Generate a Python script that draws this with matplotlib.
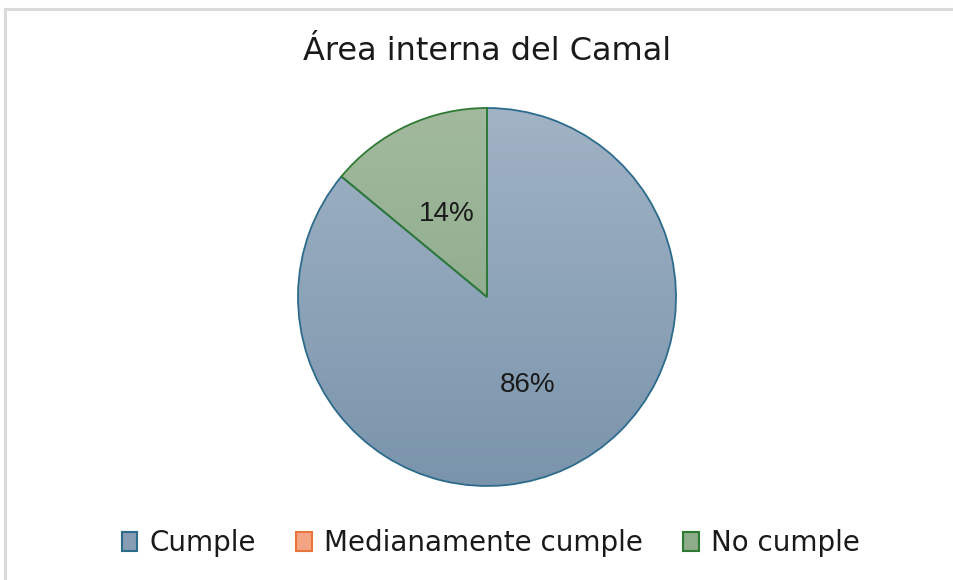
import numpy as np
import matplotlib
matplotlib.use("Agg")
import matplotlib.pyplot as plt
from matplotlib.patches import Patch
from matplotlib.lines import Line2D
from matplotlib.colors import LinearSegmentedColormap

title = "Área interna del Camal"
categories = ["Cumple", "Medianamente cumple", "No cumple"]
values = [86, 0, 14]

# fill gradients (top, bottom), edge colours
fill_top = ["#a1b3c5", "#f6b295", "#a2b99e"]
fill_bottom = ["#7a94ab", "#f09a74", "#83a380"]
legend_fill = ["#869db3", "#f4a482", "#8eab8a"]
edge_colors = ["#2c6b8c", "#e8743b", "#2f7a33"]

W, H = 954, 580
fig = plt.figure(figsize=(W / 100, H / 100), dpi=100)
fig.patch.set_facecolor("white")

# light grey chart frame along left and top
fig.add_artist(Line2D([5.5 / W, 5.5 / W], [0, 1 - 9 / H], color="#d9d9d9", lw=2.2,
                      transform=fig.transFigure))
fig.add_artist(Line2D([5.5 / W, 1], [1 - 9 / H, 1 - 9 / H], color="#d9d9d9", lw=2.2,
                      transform=fig.transFigure))

cx, cy, r = 487, 297, 189
ax = fig.add_axes([(cx - r) / W, (H - cy - r) / H, 2 * r / W, 2 * r / H])

def pct_label(p):
    return "%d%%" % round(p) if p > 0 else ""

wedges, texts, autotexts = ax.pie(
    values, startangle=90, counterclock=False, radius=1,
    colors=fill_bottom, autopct=pct_label, pctdistance=0.5,
    wedgeprops=dict(linewidth=1.3, clip_on=False),
    textprops=dict(fontsize=20, color="#1a1a1a", family="Liberation Sans"))
for t in autotexts:
    x, y = t.get_position()
    t.set_position((x, y - 0.015))

# vertical gradient inside each slice
grad = np.linspace(0, 1, 256).reshape(-1, 1)
for w, v, top, bot, ec in zip(wedges, values, fill_top, fill_bottom, edge_colors):
    w.set_edgecolor(ec)
    if v == 0:
        w.set_linewidth(0)
        continue
    cmap = LinearSegmentedColormap.from_list("g", [top, bot])
    im = ax.imshow(grad, cmap=cmap, extent=(-1, 1, -1, 1), origin="upper",
                   aspect="auto", zorder=w.get_zorder() - 0.1)
    im.set_clip_path(w)
    w.set_facecolor("none")

ax.set_xlim(-1.0, 1.0)
ax.set_ylim(-1.0, 1.0)
ax.set_aspect("equal")
ax.axis("off")

fig.text(487 / W, 1 - 52 / H, title, ha="center", va="center", fontsize=23,
         color="#1a1a1a")

handles = [Patch(facecolor=c, edgecolor=e, linewidth=1.5)
           for c, e in zip(legend_fill, edge_colors)]
fig.legend(handles, categories, loc="center", bbox_to_anchor=(491 / W, 1 - 543 / H),
           ncol=3, frameon=False, handlelength=0.55, handleheight=0.65,
           handletextpad=0.45, columnspacing=1.45,
           prop=dict(size=20), labelcolor="#1a1a1a")

fig.savefig("out.png", dpi=100, facecolor="white")
